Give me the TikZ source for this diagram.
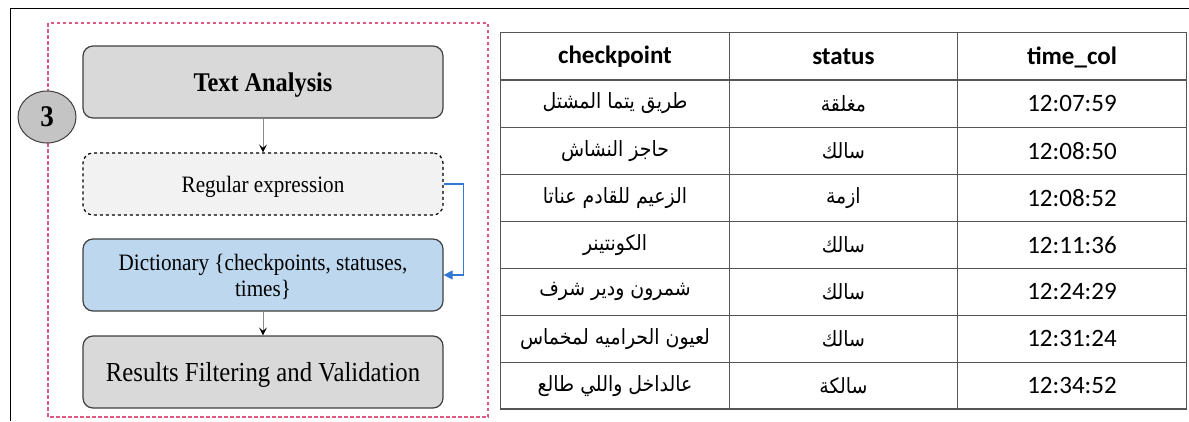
\documentclass[tikz,border=0pt]{standalone}
\usepackage{fontspec}
\setmainfont[FakeStretch=0.9]{Liberation Serif}
\newfontfamily\tblfont{Carlito}
\newfontfamily\arabicfont[Script=Arabic,FakeStretch=0.9]{DejaVu Sans}
\TeXXeTstate=1
\usetikzlibrary{arrows.meta,shapes.geometric}
\definecolor{boxline}{HTML}{404040}
\definecolor{greyfill}{HTML}{D9D9D9}
\definecolor{lightfill}{HTML}{F2F2F2}
\definecolor{bluefill}{HTML}{BDD7EE}
\definecolor{circfill}{HTML}{C4C4C4}
\definecolor{pinkline}{RGB}{222,88,128}
\definecolor{blueline}{RGB}{52,120,214}
\definecolor{gridline}{HTML}{555555}
\definecolor{arrline}{HTML}{8A8A8A}
\tikzset{
  stagebox/.style={draw=boxline, line width=1.2pt, rounded corners=10pt,
    minimum width=360pt, align=center, inner sep=0pt, text depth=0pt},
  flowarrow/.style={draw=arrline, line width=0.9pt,
    -{Stealth[black, length=8pt, width=8pt, inset=3.5pt]}},
  cellhead/.style={font=\tblfont\bfseries\fontsize{25}{28}\selectfont, inner sep=0pt},
  celltime/.style={font=\tblfont\fontsize{25}{28}\selectfont, inner sep=0pt},
  cellar/.style={font=\arabicfont\fontsize{21}{24}\selectfont, inner sep=0pt},
  gridrule/.style={draw=gridline, line width=1.2pt},
}
\begin{document}
\begin{tikzpicture}[x=1pt, y=-1pt]
\useasboundingbox (0,0) rectangle (1189,421);
% outer frame
\draw[black, line width=1pt] (10.5,421) -- (10.5,8) -- (1189,8);
% pink dashed panel
\draw[pinkline, line width=1.2pt, dash pattern=on 3.5pt off 2.5pt] (48,23) rectangle (488,417);
% stage circle
\node[ellipse, draw=boxline, fill=circfill, line width=1pt, minimum width=58pt, minimum height=52pt, inner sep=0pt,
  font=\bfseries\fontsize{30}{30}\selectfont] (num) at (47,117) {3};
% boxes
\node[stagebox, fill=greyfill, minimum height=72pt, font=\bfseries\fontsize{27}{30}\selectfont] (ta) at (263,82) {Text Analysis};
\node[stagebox, fill=lightfill, draw=black, dashed, minimum height=62pt, font=\fontsize{23.5}{26}\selectfont] (re) at (263,184) {Regular expression};
\node[stagebox, fill=bluefill, minimum height=72pt, font=\fontsize{23.5}{26}\selectfont] (di) at (263,275) {Dictionary \{checkpoints, statuses,\\ times\}};
\node[stagebox, fill=greyfill, minimum height=72pt, font=\fontsize{27.5}{30}\selectfont] (rf) at (263,372) {Results Filtering and Validation};
% connectors
\draw[flowarrow] (ta.south) -- (re.north);
\draw[flowarrow] (di.south) -- (rf.north);
\draw[blueline, line width=1.2pt, -{Triangle[length=9pt, width=9pt]}] (re.east) -- ++(20,0) |- (di.east);
% table grid
\draw[gridrule] (500.5,32.7) rectangle (1186.5,409);
\foreach \yy in {80,127.1,174.1,221.2,268.2,315.2,362.1}
  \draw[gridrule] (500.5,\yy) -- (1186.5,\yy);
\draw[gridrule] (729.3,32.7) -- (729.3,409);
\draw[gridrule] (957.5,32.7) -- (957.5,409);
% header
\node[cellhead] (h1) at (615,57) {checkpoint};
\node[cellhead] (h2) at (843.4,57) {status};
\node[cellhead] (h3) at (1072,57) {time\_col};
% rows
\node[cellar] (a1) at (615,103.5) {\beginR طريق يتما المشتل\endR};
\node[cellar] (b1) at (843.4,103.5) {\beginR مغلقة\endR};
\node[celltime] (c1) at (1072,103.5) {12:07:59};
\node[cellar] (a2) at (615,150.6) {\beginR حاجز  النشاش\endR};
\node[cellar] (b2) at (843.4,150.6) {\beginR سالك\endR};
\node[celltime] (c2) at (1072,150.6) {12:08:50};
\node[cellar] (a3) at (615,197.6) {\beginR الزعيم للقادم عناتا\endR};
\node[cellar] (b3) at (843.4,197.6) {\beginR ازمة\endR};
\node[celltime] (c3) at (1072,197.6) {12:08:52};
\node[cellar] (a4) at (615,244.7) {\beginR الكونتينر\endR};
\node[cellar] (b4) at (843.4,244.7) {\beginR سالك\endR};
\node[celltime] (c4) at (1072,244.7) {12:11:36};
\node[cellar] (a5) at (615,291.7) {\beginR شمرون ودير شرف\endR};
\node[cellar] (b5) at (843.4,291.7) {\beginR سالك\endR};
\node[celltime] (c5) at (1072,291.7) {12:24:29};
\node[cellar] (a6) at (615,338.7) {\beginR لعيون الحراميه لمخماس\endR};
\node[cellar] (b6) at (843.4,338.7) {\beginR سالك\endR};
\node[celltime] (c6) at (1072,338.7) {12:31:24};
\node[cellar] (a7) at (615,385.6) {\beginR عالداخل واللي طالع\endR};
\node[cellar] (b7) at (843.4,385.6) {\beginR سالكة\endR};
\node[celltime] (c7) at (1072,385.6) {12:34:52};
\end{tikzpicture}
\end{document}
